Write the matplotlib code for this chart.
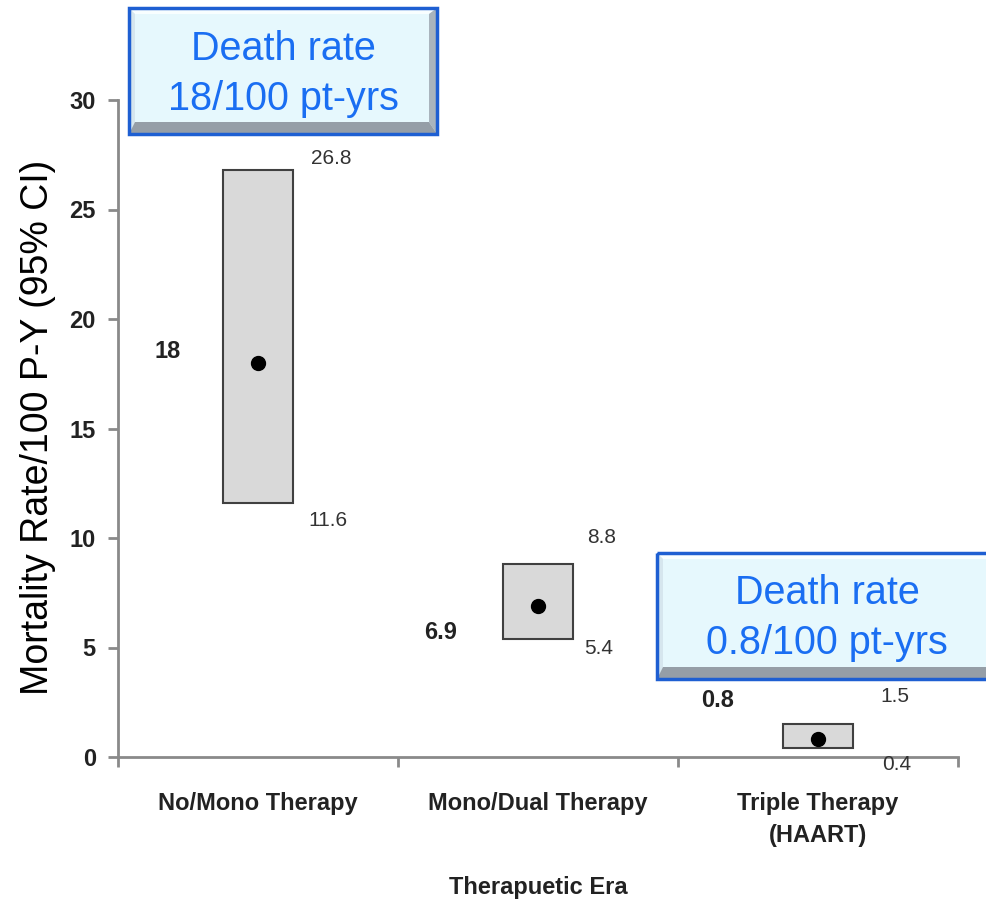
import matplotlib.pyplot as plt
from matplotlib.patches import Rectangle, Polygon

plt.rcParams['font.family'] = ['Liberation Sans', 'DejaVu Sans']

# data
eras = ['No/Mono Therapy', 'Mono/Dual Therapy', 'Triple Therapy\n(HAART)']
rates = [18, 6.9, 0.8]
ci_low = [11.6, 5.4, 0.4]
ci_high = [26.8, 8.8, 1.5]
rate_labels = ['18', '6.9', '0.8']
low_labels = ['11.6', '5.4', '0.4']
high_labels = ['26.8', '8.8', '1.5']
callouts = ['Death rate\n18/100 pt-yrs', 'Death rate\n0.8/100 pt-yrs']

# label offsets (pixels) relative to the box corner / point
rate_off = [(-90, 11), (-97, -27), (-100, 39)]
high_off = [(38, 12), (29, 27), (42, 28)]
low_off = [(35, -18), (26, -10), (44, -16)]

W, H = 987, 902
fig = plt.figure(figsize=(W / 100, H / 100), dpi=100)
ax = fig.add_axes([118 / W, 1 - 757 / H, 840 / W, 657 / H])

box_w = 0.25
grey = '#8a8a8a'
for i, era in enumerate(eras):
    xc = i + 0.5
    ax.add_patch(Rectangle((xc - box_w / 2, ci_low[i]), box_w, ci_high[i] - ci_low[i],
                           facecolor='#d9d9d9', edgecolor='#404040', linewidth=1.5, zorder=2))
    ax.plot(xc, rates[i], 'o', color='black', markersize=10, zorder=3)
    ax.annotate(rate_labels[i], (xc, rates[i]), xytext=rate_off[i], textcoords='offset pixels',
                ha='center', va='center', fontsize=17, fontweight='bold', color='#222222')
    ax.annotate(high_labels[i], (xc + box_w / 2, ci_high[i]), xytext=high_off[i],
                textcoords='offset pixels', ha='center', va='center', fontsize=15, color='#333333')
    ax.annotate(low_labels[i], (xc + box_w / 2, ci_low[i]), xytext=low_off[i],
                textcoords='offset pixels', ha='center', va='center', fontsize=15, color='#333333')

ax.set_xlim(0, 3)
ax.set_ylim(0, 30)
ax.set_yticks(range(0, 31, 5))
ax.set_xticks([0, 1, 2, 3])
ax.set_xticklabels([])
ax.set_xticks([0.5, 1.5, 2.5], minor=True)
ax.set_xticklabels(eras, minor=True, fontsize=17, fontweight='bold', color='#222222')
for t in ax.get_xticklabels(minor=True):
    t.set_linespacing(1.5)
ax.tick_params(axis='x', which='minor', length=0, pad=25)
ax.tick_params(axis='x', which='major', length=7, width=2, color=grey, direction='out')
ax.tick_params(axis='y', length=7, width=2, color=grey, pad=9, labelsize=17)
for t in ax.get_yticklabels():
    t.set_fontweight('bold')
    t.set_color('#222222')

for s in ['top', 'right']:
    ax.spines[s].set_visible(False)
for s in ['left', 'bottom']:
    ax.spines[s].set_color(grey)
    ax.spines[s].set_linewidth(2)

ax.set_xlabel('Therapuetic Era', fontsize=17, fontweight='bold', color='#222222', labelpad=21)
ax.set_ylabel('Mortality Rate/100 P-Y (95% CI)', fontsize=27, color='black', va='center')
ax.yaxis.set_label_coords(-0.095, 0.502)


def px(x, y):
    return (x / W, 1 - y / H)


def callout(x0, y0, x1, y1, text, tx, ty):
    bt, bl, br, bb = 6, 6, 8, 12
    tf = fig.transFigure
    outer = [px(x0, y0), px(x1, y0), px(x1, y1), px(x0, y1)]
    inner = [px(x0 + bl, y0 + bt), px(x1 - br, y0 + bt), px(x1 - br, y1 - bb), px(x0 + bl, y1 - bb)]
    fig.add_artist(Polygon(outer, closed=True, transform=tf, facecolor='#e6f8fd', edgecolor='none'))
    fig.add_artist(Polygon([outer[0], outer[1], inner[1], inner[0]], transform=tf,
                           facecolor='#f8feff', edgecolor='none'))
    fig.add_artist(Polygon([outer[0], inner[0], inner[3], outer[3]], transform=tf,
                           facecolor='#d6e6ee', edgecolor='none'))
    fig.add_artist(Polygon([outer[1], outer[2], inner[2], inner[1]], transform=tf,
                           facecolor='#a9b4bd', edgecolor='none'))
    fig.add_artist(Polygon([outer[3], inner[3], inner[2], outer[2]], transform=tf,
                           facecolor='#959ea7', edgecolor='none'))
    fig.add_artist(Polygon(outer, closed=True, transform=tf, facecolor='none',
                           edgecolor='#1e5fd2', linewidth=2.5))
    fig.text(tx / W, 1 - ty / H, text, ha='center', va='center', fontsize=28.5,
             color='#1a6ef2', linespacing=1.4)


callout(129, 8, 437, 134, callouts[0], 283, 74)
callout(657, 553, 1000, 679, callouts[1], 827, 618)

fig.savefig('out.png', dpi=100)
